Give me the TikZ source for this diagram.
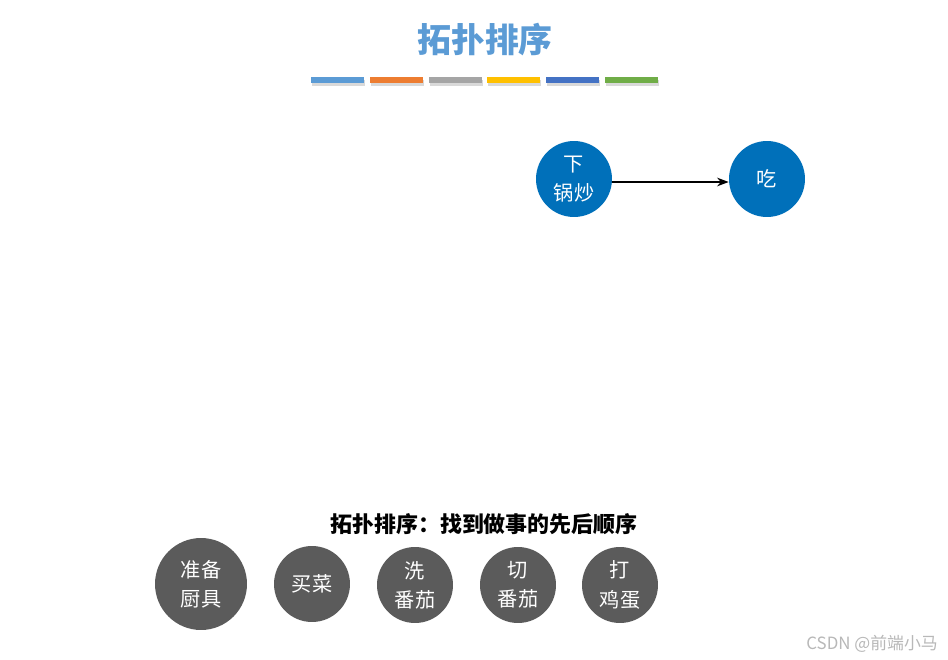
\documentclass[tikz,border=0pt]{standalone}
\usepackage{fontspec}
\setmainfont{Noto Sans CJK SC}
\usetikzlibrary{arrows.meta,positioning}
\definecolor{topotitle}{HTML}{5B9BD5}
\definecolor{topoblue}{HTML}{0070BA}
\definecolor{topogray}{HTML}{5B5B5B}
\definecolor{barA}{HTML}{5B9BD5}
\definecolor{barB}{HTML}{ED7D31}
\definecolor{barC}{HTML}{A5A5A5}
\definecolor{barD}{HTML}{FFC000}
\definecolor{barE}{HTML}{4472C4}
\definecolor{barF}{HTML}{70AD47}

\begin{document}
\begin{tikzpicture}[x=0.02cm,y=-0.02cm,>=Stealth,line cap=round,line join=round,
  font=\fontsize{11.5}{16.6}\selectfont,
  curnode/.style={circle,fill=topoblue,text=white,minimum size=1.52cm,inner sep=0pt,align=center},
  task/.style={circle,fill=topogray,text=white,minimum size=1.52cm,inner sep=0pt,align=center}]
\path[use as bounding box] (0,0) rectangle (948,660);
\fill[white] (0,0) rectangle (948,660);

% 标题与彩条
\node[text=topotitle,font=\fontsize{19.3}{23}\selectfont\bfseries] (title) at (485,40) {拓扑排序};
\foreach \c [count=\i from 0] in {barA,barB,barC,barD,barE,barF} {
  \fill[black!15] (312+58.8*\i,79.5) rectangle ++(53,6);
  \fill[\c] (311+58.8*\i,77) rectangle ++(53,6);
}

% 当前步骤
\node[curnode] (wok) at (574,179) {下\\锅炒};
\node[curnode] (eat) at (767,179) {吃};
\draw[->,line width=0.8pt] ([yshift=-0.06cm]wok.east) -- ([yshift=-0.06cm]eat.west);

% 说明与待排序的事
\node[font=\fontsize{12.5}{15}\selectfont\bfseries] (caption) at (484,524) {拓扑排序：找到做事的先后顺序};
\node[task,minimum size=1.84cm] (prep) at (201,584) {准备\\厨具};
\node[task] (buy) at (312,584) {买菜};
\node[task] (wash) at (415,585) {洗\\番茄};
\node[task] (cut) at (518,585) {切\\番茄};
\node[task] (egg) at (620,585) {打\\鸡蛋};

% 水印
\node[anchor=east,text=black!28,font=\fontsize{9.6}{11}\selectfont] (mark) at (944,644) {CSDN @前端小马};
\end{tikzpicture}
\end{document}
